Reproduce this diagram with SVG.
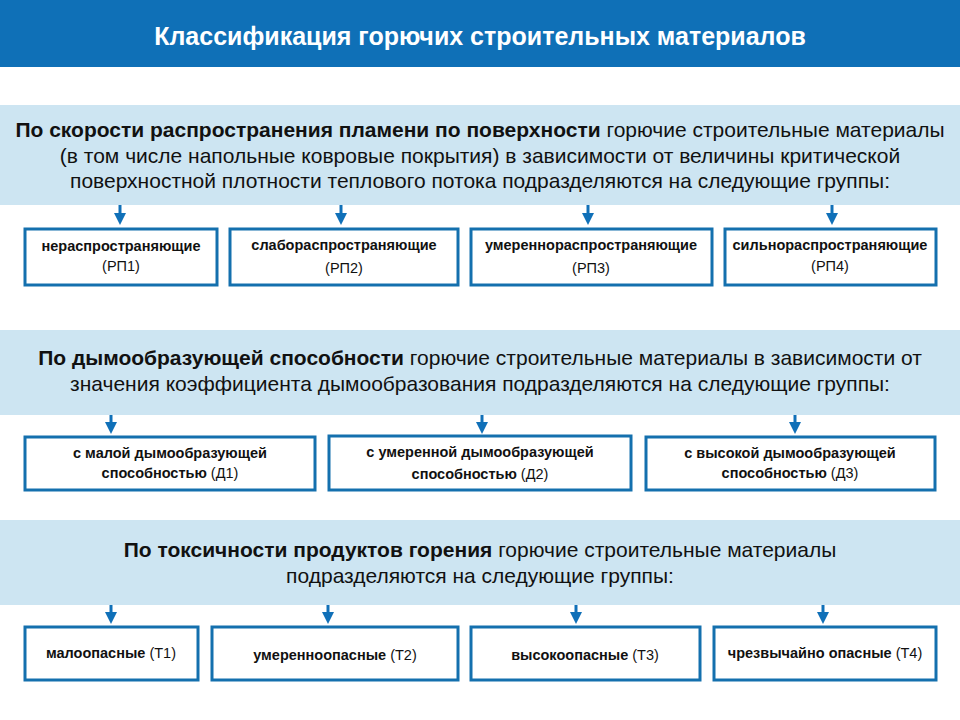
<svg xmlns="http://www.w3.org/2000/svg" width="960" height="720" viewBox="0 0 960 720">
<defs>
<marker id="ah" markerWidth="4" markerHeight="4" refX="2" refY="2" orient="auto" markerUnits="strokeWidth"><path d="M0,0 L4,2 L0,4 z" fill="#1070B8"/></marker>
<style>
.band{fill:#CDE5F2}
.box{fill:#fff;stroke:#1470AE;stroke-width:3}
.bt{font-family:"Liberation Sans",Arial,sans-serif;font-size:21px;fill:#111;text-anchor:middle}
.b{font-weight:bold}
.nt{font-family:"Liberation Sans",Arial,sans-serif;font-size:14.5px;fill:#111;text-anchor:middle}
.c{stroke:#1070B8;stroke-width:3;marker-end:url(#ah)}
</style>
</defs>
<rect width="960" height="720" fill="#fff"/>
<g id="header"><rect x="0" y="0" width="960" height="67" fill="#0F70B7"/>
<text x="480" y="45" font-family="'Liberation Sans',Arial,sans-serif" font-size="25" font-weight="bold" fill="#fff" text-anchor="middle">Классификация  горючих строительных материалов</text></g>
<g id="band1"><rect class="band" x="0" y="105" width="960" height="100"/>
<text class="bt" x="480" y="137"><tspan class="b">По скорости распространения пламени по поверхности</tspan> горючие строительные материалы</text>
<text class="bt" x="480" y="163">(в том числе напольные ковровые покрытия) в зависимости от величины критической</text>
<text class="bt" x="480" y="188">поверхностной плотности теплового потока подразделяются на следующие группы:</text></g>
<g id="band2"><rect class="band" x="0" y="330" width="960" height="85"/>
<text class="bt" x="480" y="365"><tspan class="b">По дымообразующей способности</tspan> горючие строительные материалы в зависимости от</text>
<text class="bt" x="480" y="391">значения коэффициента дымообразования подразделяются на следующие группы:</text></g>
<g id="band3"><rect class="band" x="0" y="520" width="960" height="85"/>
<text class="bt" x="480" y="557"><tspan class="b">По токсичности продуктов горения</tspan> горючие строительные материалы</text>
<text class="bt" x="480" y="583">подразделяются на следующие группы:</text></g>
<g id="connectors">
<line class="c" x1="120" y1="205" x2="120" y2="219"/>
<line class="c" x1="341" y1="205" x2="341" y2="219"/>
<line class="c" x1="588" y1="205" x2="588" y2="219"/>
<line class="c" x1="832" y1="205" x2="832" y2="219"/>
<line class="c" x1="111" y1="415" x2="111" y2="428"/>
<line class="c" x1="482" y1="415" x2="482" y2="428"/>
<line class="c" x1="795" y1="415" x2="795" y2="428"/>
<line class="c" x1="111" y1="605" x2="111" y2="618"/>
<line class="c" x1="328" y1="605" x2="328" y2="618"/>
<line class="c" x1="576" y1="605" x2="576" y2="618"/>
<line class="c" x1="823" y1="605" x2="823" y2="618"/>
</g>
<g id="rp1"><rect class="box" x="25" y="229" width="192" height="56"/><text class="nt b" x="121" y="251">нераспространяющие</text><text class="nt" x="121" y="271">(РП1)</text></g>
<g id="rp2"><rect class="box" x="230" y="229" width="228" height="56"/><text class="nt b" x="344" y="250">слабораспространяющие</text><text class="nt" x="344" y="273">(РП2)</text></g>
<g id="rp3"><rect class="box" x="471" y="229" width="241" height="56"/><text class="nt b" x="591" y="250">умереннораспространяющие</text><text class="nt" x="591" y="273">(РП3)</text></g>
<g id="rp4"><rect class="box" x="725" y="229" width="211" height="56"/><text class="nt b" x="830" y="250">сильнораспространяющие</text><text class="nt" x="830" y="271">(РП4)</text></g>
<g id="d1"><rect class="box" x="25" y="437" width="290" height="53"/><text class="nt b" x="170" y="458">с малой  дымообразующей</text><text class="nt" x="170" y="478"><tspan class="b">способностью</tspan>  (Д1)</text></g>
<g id="d2"><rect class="box" x="329" y="436" width="302" height="54"/><text class="nt b" x="480" y="457">с умеренной  дымообразующей</text><text class="nt" x="480" y="479"><tspan class="b">способностью</tspan>  (Д2)</text></g>
<g id="d3"><rect class="box" x="646" y="437" width="289" height="53"/><text class="nt b" x="790" y="458">с высокой  дымообразующей</text><text class="nt" x="790" y="478"><tspan class="b">способностью</tspan>  (Д3)</text></g>
<g id="t1"><rect class="box" x="25" y="627" width="173" height="53"/><text class="nt" x="111" y="658"><tspan class="b">малоопасные</tspan>  (Т1)</text></g>
<g id="t2"><rect class="box" x="212" y="627" width="246" height="53"/><text class="nt" x="335" y="660"><tspan class="b">умеренноопасные</tspan>  (Т2)</text></g>
<g id="t3"><rect class="box" x="471" y="627" width="229" height="53"/><text class="nt" x="585" y="660"><tspan class="b">высокоопасные</tspan>  (Т3)</text></g>
<g id="t4"><rect class="box" x="714" y="627" width="222" height="53"/><text class="nt" x="825" y="658"><tspan class="b">чрезвычайно  опасные</tspan>  (Т4)</text></g>
</svg>
